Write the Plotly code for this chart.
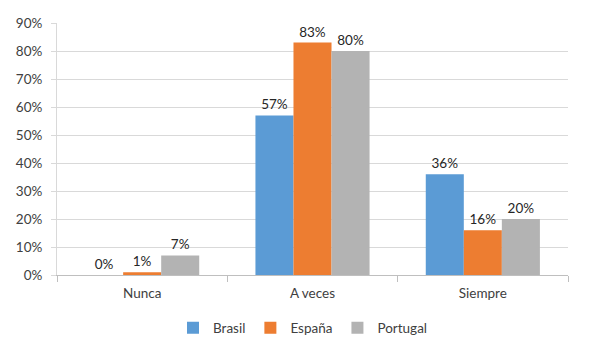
import plotly.graph_objects as go

categories = ["Nunca", "A veces", "Siempre"]
brasil = [0, 57, 36]
espana = [1, 83, 16]
portugal = [7, 80, 20]
series_names = ["Brasil", "España", "Portugal"]
colors = ["#5B9BD5", "#ED7D31", "#B3B3B3"]
y_ticks = list(range(0, 91, 10))

FS = 13.5
fig = go.Figure()
for name, vals, col in zip(series_names, [brasil, espana, portugal], colors):
    fig.add_trace(go.Bar(
        x=categories, y=vals, name=name, marker_color=col,
        marker_line_width=0,
        text=[f"{v}%" for v in vals], textposition="outside",
        textfont=dict(size=FS, color="#262626"), cliponaxis=False,
    ))

fig.update_layout(
    width=590, height=363,
    margin=dict(l=49, r=30, t=15, b=96, autoexpand=False),
    barmode="group", bargap=0.33, bargroupgap=0,
    plot_bgcolor="white", paper_bgcolor="white",
    font=dict(family="Lato, Liberation Sans, sans-serif", size=FS, color="#404040"),
    showlegend=True,
    legend=dict(orientation="h", x=0.5, xanchor="center", xref="container",
                y=43 / 363, yanchor="middle", yref="container",
                font=dict(size=FS, color="#404040"), itemwidth=30,
                traceorder="normal"),
)
fig.update_xaxes(
    showline=True, linecolor="#BFBFBF", linewidth=1,
    ticks="outside", tickson="boundaries", ticklen=6, tickcolor="#BFBFBF",
    tickfont=dict(size=FS, color="#404040"), showgrid=False,
    ticklabelstandoff=6,
)
fig.update_yaxes(
    range=[0, 90], tickvals=y_ticks, ticktext=[f"{v}%" for v in y_ticks],
    showgrid=True, gridcolor="#D9D9D9", gridwidth=1,
    showline=True, linecolor="#D9D9D9", linewidth=1,
    ticks="outside", ticklen=5, tickcolor="#D9D9D9",
    tickfont=dict(size=FS, color="#404040"), zeroline=False,
    ticklabelstandoff=6,
)

fig.write_html("out.html")
